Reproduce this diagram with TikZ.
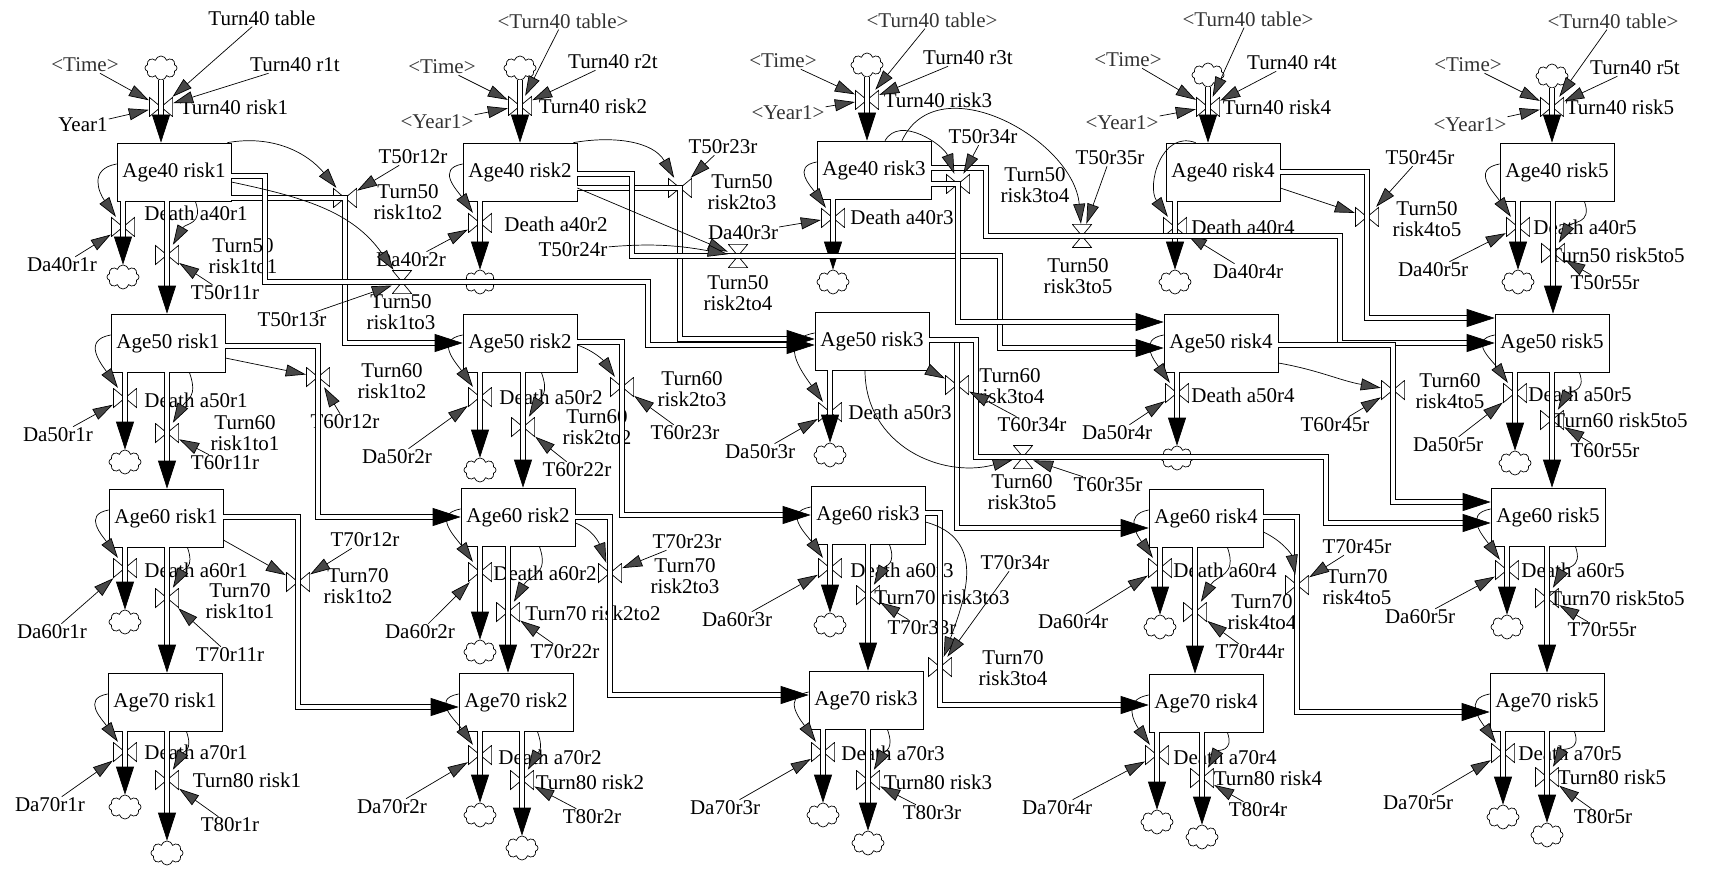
\documentclass[tikz,border=0pt]{standalone}
\usepackage{fontspec}
\setmainfont{Liberation Serif}
\usepackage{tikz}
\usetikzlibrary{arrows.meta,shapes.symbols}

\begin{document}
\begin{tikzpicture}[
	x=1pt,
	y=-1pt,
	font=\fontsize{21}{21}\selectfont,
	stock/.style={
		rectangle,
		draw,
		line width=0.7pt,
		minimum width=114pt,
		minimum height=58pt,
		inner sep=0pt
	},
	vvalve/.style={
		rectangle,
		inner sep=0pt,
		minimum width=24pt,
		minimum height=20pt,
		path picture={
			\draw[line width=0.7pt]
			([shift={(0.4pt,-0.4pt)}]path picture bounding box.north west) -- (path picture bounding box.center)
			-- ([shift={(0.4pt,0.4pt)}]path picture bounding box.south west) -- cycle
			([shift={(-0.4pt,-0.4pt)}]path picture bounding box.north east) -- (path picture bounding box.center)
			-- ([shift={(-0.4pt,0.4pt)}]path picture bounding box.south east) -- cycle;
		}
	},
	hvalve/.style={
		rectangle,
		inner sep=0pt,
		minimum width=20pt,
		minimum height=24pt,
		path picture={
			\draw[line width=0.7pt]
			([shift={(0.4pt,-0.4pt)}]path picture bounding box.north west) -- (path picture bounding box.center)
			-- ([shift={(-0.4pt,-0.4pt)}]path picture bounding box.north east) -- cycle
			([shift={(0.4pt,0.4pt)}]path picture bounding box.south west) -- (path picture bounding box.center)
			-- ([shift={(-0.4pt,0.4pt)}]path picture bounding box.south east) -- cycle;
		}
	},
	sink/.style={
		cloud,
		cloud puffs=8,
		aspect=1.3,
		draw,
		line width=0.7pt,
		inner sep=0pt,
		minimum width=32pt,
		minimum height=24pt
	},
	pipe/.style={
		double,
		double distance=4.5pt,
		line width=0.7pt
	},
	flow/.style={-{Triangle[length=28pt,width=18pt]}},
	info/.style={
		line width=0.7pt,
		-{Triangle[length=20pt,width=12pt,fill=black!72]}
	},
	vname/.style={inner sep=0pt, align=center},
	aux/.style={inner sep=1pt},
	ghost/.style={inner sep=1pt, text=black!80}
	]
	\useasboundingbox (0,0) rectangle (1735,869);

	% stocks
	\node (a40r1) [stock] at (174,172) {Age40 risk1};
	\node (a50r1) [stock] at (168,343) {Age50 risk1};
	\node (a60r1) [stock] at (166,518) {Age60 risk1};
	\node (a70r1) [stock] at (165,702) {Age70 risk1};
	\node (a40r2) [stock] at (520,172) {Age40 risk2};
	\node (a50r2) [stock] at (520,343) {Age50 risk2};
	\node (a60r2) [stock] at (518,517) {Age60 risk2};
	\node (a70r2) [stock] at (516,702) {Age70 risk2};
	\node (a40r3) [stock] at (874,170) {Age40 risk3};
	\node (a50r3) [stock] at (872,341) {Age50 risk3};
	\node (a60r3) [stock] at (868,515) {Age60 risk3};
	\node (a70r3) [stock] at (866,700) {Age70 risk3};
	\node (a40r4) [stock] at (1223,172) {Age40 risk4};
	\node (a50r4) [stock] at (1221,343) {Age50 risk4};
	\node (a60r4) [stock] at (1206,518) {Age60 risk4};
	\node (a70r4) [stock] at (1206,703) {Age70 risk4};
	\node (a40r5) [stock] at (1557,172) {Age40 risk5};
	\node (a50r5) [stock] at (1552,343) {Age50 risk5};
	\node (a60r5) [stock] at (1548,517) {Age60 risk5};
	\node (a70r5) [stock] at (1547,702) {Age70 risk5};

	% Turn40 inflows
	\node (cl40r1) [sink] at (161,68) {};
	\node (t40r1) [vvalve] at (161,107) {};
	\node (lt40r1) [vname] at (234,107) {Turn40 risk1};
	\node (table1) [aux] at (262,18) {Turn40 table};
	\node (time1) [ghost] at (85,65) {<Time>};
	\node (year1) [aux] at (83,125) {Year1};
	\node (r1t) [aux] at (295,65) {Turn40 r1t};
	\draw[pipe,flow] (cl40r1) -- (t40r1.center |- a40r1.north);
	\draw[info] (time1) -- (t40r1);
	\draw[info] (year1) -- (t40r1);
	\draw[info] (table1) -- (t40r1);
	\draw[info] (r1t) -- (t40r1);

	\node (cl40r2) [sink] at (520,68) {};
	\node (t40r2) [vvalve] at (520,106) {};
	\node (lt40r2) [vname] at (593,106) {Turn40 risk2};
	\node (table2) [ghost] at (563,21) {<Turn40 table>};
	\node (time2) [ghost] at (442,67) {<Time>};
	\node (year2) [ghost] at (437,122) {<Year1>};
	\node (r2t) [aux] at (613,62) {Turn40 r2t};
	\draw[pipe,flow] (cl40r2) -- (t40r2.center |- a40r2.north);
	\draw[info] (time2) -- (t40r2);
	\draw[info] (year2) -- (t40r2);
	\draw[info] (table2) -- (t40r2);
	\draw[info] (r2t) -- (t40r2);

	\node (cl40r3) [sink] at (867,65) {};
	\node (t40r3) [vvalve] at (867,100) {};
	\node (lt40r3) [vname] at (938,100) {Turn40 risk3};
	\node (table3) [ghost] at (932,20) {<Turn40 table>};
	\node (time3) [ghost] at (783,61) {<Time>};
	\node (year3) [ghost] at (788,113) {<Year1>};
	\node (r3t) [aux] at (968,58) {Turn40 r3t};
	\draw[pipe,flow] (cl40r3) -- (t40r3.center |- a40r3.north);
	\draw[info] (time3) -- (t40r3);
	\draw[info] (year3) -- (t40r3);
	\draw[info] (table3) -- (t40r3);
	\draw[info] (r3t) -- (t40r3);

	\node (cl40r4) [sink] at (1208,75) {};
	\node (t40r4) [vvalve] at (1208,107) {};
	\node (lt40r4) [vname] at (1277,107) {Turn40 risk4};
	\node (table4) [ghost] at (1248,19) {<Turn40 table>};
	\node (time4) [ghost] at (1128,60) {<Time>};
	\node (year4) [ghost] at (1122,123) {<Year1>};
	\node (r4t) [aux] at (1292,63) {Turn40 r4t};
	\draw[pipe,flow] (cl40r4) -- (t40r4.center |- a40r4.north);
	\draw[info] (time4) -- (t40r4);
	\draw[info] (year4) -- (t40r4);
	\draw[info] (table4) -- (t40r4);
	\draw[info] (r4t) -- (t40r4);

	\node (cl40r5) [sink] at (1552,76) {};
	\node (t40r5) [vvalve] at (1552,107) {};
	\node (lt40r5) [vname] at (1620,107) {Turn40 risk5};
	\node (table5) [ghost] at (1613,21) {<Turn40 table>};
	\node (time5) [ghost] at (1468,65) {<Time>};
	\node (year5) [ghost] at (1470,125) {<Year1>};
	\node (r5t) [aux] at (1635,68) {Turn40 r5t};
	\draw[pipe,flow] (cl40r5) -- (t40r5.center |- a40r5.north);
	\draw[info] (time5) -- (t40r5);
	\draw[info] (year5) -- (t40r5);
	\draw[info] (table5) -- (t40r5);
	\draw[info] (r5t) -- (t40r5);

	% deaths, risk1
	\node (d40r1) [vvalve] at (123,227) {};
	\node (cd40r1) [sink] at (123,277) {};
	\node (ld40r1) [vname] at (196,213) {Death a40r1};
	\node (da40r1r) [aux] at (62,265) {Da40r1r};
	\node (d50r1) [vvalve] at (125,398) {};
	\node (cd50r1) [sink] at (125,462) {};
	\node (ld50r1) [vname] at (196,400) {Death a50r1};
	\node (da50r1r) [aux] at (58,435) {Da50r1r};
	\node (d60r1) [vvalve] at (125,568) {};
	\node (cd60r1) [sink] at (125,622) {};
	\node (ld60r1) [vname] at (196,570) {Death a60r1};
	\node (da60r1r) [aux] at (52,632) {Da60r1r};
	\node (d70r1) [vvalve] at (125,752) {};
	\node (cd70r1) [sink] at (125,807) {};
	\node (ld70r1) [vname] at (196,752) {Death a70r1};
	\node (da70r1r) [aux] at (50,805) {Da70r1r};

	% deaths, risk2
	\node (d40r2) [vvalve] at (480,223) {};
	\node (cd40r2) [sink] at (480,282) {};
	\node (ld40r2) [vname] at (556,224) {Death a40r2};
	\node (da40r2r) [aux] at (411,260) {Da40r2r};
	\node (d50r2) [vvalve] at (480,397) {};
	\node (cd50r2) [sink] at (480,470) {};
	\node (ld50r2) [vname] at (551,397) {Death a50r2};
	\node (da50r2r) [aux] at (397,457) {Da50r2r};
	\node (d60r2) [vvalve] at (480,572) {};
	\node (cd60r2) [sink] at (480,652) {};
	\node (ld60r2) [vname] at (545,573) {Death a60r2};
	\node (da60r2r) [aux] at (420,632) {Da60r2r};
	\node (d70r2) [vvalve] at (480,755) {};
	\node (cd70r2) [sink] at (480,815) {};
	\node (ld70r2) [vname] at (550,757) {Death a70r2};
	\node (da70r2r) [aux] at (392,807) {Da70r2r};

	% deaths, risk3
	\node (d40r3) [vvalve] at (833,218) {};
	\node (cd40r3) [sink] at (833,282) {};
	\node (ld40r3) [vname] at (902,217) {Death a40r3};
	\node (da40r3r) [aux] at (743,233) {Da40r3r};
	\node (d50r3) [vvalve] at (830,412) {};
	\node (cd50r3) [sink] at (830,455) {};
	\node (ld50r3) [vname] at (900,412) {Death a50r3};
	\node (da50r3r) [aux] at (760,452) {Da50r3r};
	\node (d60r3) [vvalve] at (830,568) {};
	\node (cd60r3) [sink] at (830,625) {};
	\node (ld60r3) [vname] at (902,570) {Death a60r3};
	\node (da60r3r) [aux] at (737,620) {Da60r3r};
	\node (d70r3) [vvalve] at (823,752) {};
	\node (cd70r3) [sink] at (823,815) {};
	\node (ld70r3) [vname] at (893,753) {Death a70r3};
	\node (da70r3r) [aux] at (725,808) {Da70r3r};

	% deaths, risk4
	\node (d40r4) [vvalve] at (1175,227) {};
	\node (cd40r4) [sink] at (1175,282) {};
	\node (ld40r4) [vname] at (1243,227) {Death a40r4};
	\node (da40r4r) [aux] at (1248,272) {Da40r4r};
	\node (d50r4) [vvalve] at (1177,393) {};
	\node (cd50r4) [sink] at (1177,458) {};
	\node (ld50r4) [vname] at (1243,395) {Death a50r4};
	\node (da50r4r) [aux] at (1117,433) {Da50r4r};
	\node (d60r4) [vvalve] at (1160,568) {};
	\node (cd60r4) [sink] at (1160,627) {};
	\node (ld60r4) [vname] at (1225,570) {Death a60r4};
	\node (da60r4r) [aux] at (1073,622) {Da60r4r};
	\node (d70r4) [vvalve] at (1157,755) {};
	\node (cd70r4) [sink] at (1157,822) {};
	\node (ld70r4) [vname] at (1225,757) {Death a70r4};
	\node (da70r4r) [aux] at (1057,808) {Da70r4r};

	% deaths, risk5
	\node (d40r5) [vvalve] at (1518,227) {};
	\node (cd40r5) [sink] at (1518,282) {};
	\node (ld40r5) [vname] at (1585,227) {Death a40r5};
	\node (da40r5r) [aux] at (1433,270) {Da40r5r};
	\node (d50r5) [vvalve] at (1515,393) {};
	\node (cd50r5) [sink] at (1515,463) {};
	\node (ld50r5) [vname] at (1580,394) {Death a50r5};
	\node (da50r5r) [aux] at (1448,445) {Da50r5r};
	\node (d60r5) [vvalve] at (1507,570) {};
	\node (cd60r5) [sink] at (1507,627) {};
	\node (ld60r5) [vname] at (1573,570) {Death a60r5};
	\node (da60r5r) [aux] at (1420,617) {Da60r5r};
	\node (d70r5) [vvalve] at (1503,753) {};
	\node (cd70r5) [sink] at (1503,817) {};
	\node (ld70r5) [vname] at (1570,753) {Death a70r5};
	\node (da70r5r) [aux] at (1418,803) {Da70r5r};

	% death flows and links
	\draw[pipe,flow] (d40r1.center |- a40r1.south) -- (cd40r1);
	\draw[pipe,flow] (d50r1.center |- a50r1.south) -- (cd50r1);
	\draw[pipe,flow] (d60r1.center |- a60r1.south) -- (cd60r1);
	\draw[pipe,flow] (d70r1.center |- a70r1.south) -- (cd70r1);
	\draw[pipe,flow] (d40r2.center |- a40r2.south) -- (cd40r2);
	\draw[pipe,flow] (d50r2.center |- a50r2.south) -- (cd50r2);
	\draw[pipe,flow] (d60r2.center |- a60r2.south) -- (cd60r2);
	\draw[pipe,flow] (d70r2.center |- a70r2.south) -- (cd70r2);
	\draw[pipe,flow] (d40r3.center |- a40r3.south) -- (cd40r3);
	\draw[pipe,flow] (d50r3.center |- a50r3.south) -- (cd50r3);
	\draw[pipe,flow] (d60r3.center |- a60r3.south) -- (cd60r3);
	\draw[pipe,flow] (d70r3.center |- a70r3.south) -- (cd70r3);
	\draw[pipe,flow] (d40r4.center |- a40r4.south) -- (cd40r4);
	\draw[pipe,flow] (d50r4.center |- a50r4.south) -- (cd50r4);
	\draw[pipe,flow] (d60r4.center |- a60r4.south) -- (cd60r4);
	\draw[pipe,flow] (d70r4.center |- a70r4.south) -- (cd70r4);
	\draw[pipe,flow] (d40r5.center |- a40r5.south) -- (cd40r5);
	\draw[pipe,flow] (d50r5.center |- a50r5.south) -- (cd50r5);
	\draw[pipe,flow] (d60r5.center |- a60r5.south) -- (cd60r5);
	\draw[pipe,flow] (d70r5.center |- a70r5.south) -- (cd70r5);

	\draw[info] ([yshift=8pt]a40r1.west) to[out=190,in=125,looseness=1.4] (d40r1);
	\draw[info] ([yshift=8pt]a50r1.west) to[out=190,in=125,looseness=1.4] (d50r1);
	\draw[info] ([yshift=8pt]a60r1.west) to[out=190,in=125,looseness=1.4] (d60r1);
	\draw[info] ([yshift=8pt]a70r1.west) to[out=190,in=125,looseness=1.4] (d70r1);
	\draw[info] ([yshift=8pt]a40r2.west) to[out=190,in=125,looseness=1.4] (d40r2);
	\draw[info] ([yshift=8pt]a50r2.west) to[out=190,in=125,looseness=1.4] (d50r2);
	\draw[info] ([yshift=8pt]a60r2.west) to[out=190,in=125,looseness=1.4] (d60r2);
	\draw[info] ([yshift=8pt]a70r2.west) to[out=190,in=125,looseness=1.4] (d70r2);
	\draw[info] ([yshift=8pt]a40r3.west) to[out=190,in=125,looseness=1.4] (d40r3);
	\draw[info] ([yshift=8pt]a50r3.west) to[out=190,in=125,looseness=1.4] (d50r3);
	\draw[info] ([yshift=8pt]a60r3.west) to[out=190,in=125,looseness=1.4] (d60r3);
	\draw[info] ([yshift=8pt]a70r3.west) to[out=190,in=125,looseness=1.4] (d70r3);
	\draw[info] ([xshift=30pt]a40r4.north west) to[out=160,in=125,looseness=1.2] (d40r4);
	\draw[info] ([yshift=8pt]a50r4.west) to[out=190,in=125,looseness=1.4] (d50r4);
	\draw[info] ([yshift=8pt]a60r4.west) to[out=190,in=125,looseness=1.4] (d60r4);
	\draw[info] ([yshift=8pt]a70r4.west) to[out=190,in=125,looseness=1.4] (d70r4);
	\draw[info] ([yshift=8pt]a40r5.west) to[out=190,in=125,looseness=1.4] (d40r5);
	\draw[info] ([yshift=8pt]a50r5.west) to[out=190,in=125,looseness=1.4] (d50r5);
	\draw[info] ([yshift=8pt]a60r5.west) to[out=190,in=125,looseness=1.4] (d60r5);
	\draw[info] ([yshift=8pt]a70r5.west) to[out=190,in=125,looseness=1.4] (d70r5);

	\draw[info] (da40r1r) -- (d40r1);
	\draw[info] (da50r1r) -- (d50r1);
	\draw[info] (da60r1r) -- (d60r1);
	\draw[info] (da70r1r) -- (d70r1);
	\draw[info] (da40r2r) -- (d40r2);
	\draw[info] (da50r2r) -- (d50r2);
	\draw[info] (da60r2r) -- (d60r2);
	\draw[info] (da70r2r) -- (d70r2);
	\draw[info] (da40r3r) -- (d40r3);
	\draw[info] (da50r3r) -- (d50r3);
	\draw[info] (da60r3r) -- (d60r3);
	\draw[info] (da70r3r) -- (d70r3);
	\draw[info] (da40r4r) -- (d40r4);
	\draw[info] (da50r4r) -- (d50r4);
	\draw[info] (da60r4r) -- (d60r4);
	\draw[info] (da70r4r) -- (d70r4);
	\draw[info] (da40r5r) -- (d40r5);
	\draw[info] (da50r5r) -- (d50r5);
	\draw[info] (da60r5r) -- (d60r5);
	\draw[info] (da70r5r) -- (d70r5);

	% ageing within the same risk
	\node (t50r11) [vvalve] at (167,255) {};
	\node (lt50r11) [vname] at (243,256) {Turn50\\risk1to1};
	\node (t50r11r) [aux] at (225,293) {T50r11r};
	\node (t60r11) [vvalve] at (167,433) {};
	\node (lt60r11) [vname] at (245,433) {Turn60\\risk1to1};
	\node (t60r11r) [aux] at (225,463) {T60r11r};
	\node (t70r11) [vvalve] at (167,598) {};
	\node (lt70r11) [vname] at (240,601) {Turn70\\risk1to1};
	\node (t70r11r) [aux] at (230,655) {T70r11r};
	\node (t80r1) [vvalve] at (167,780) {};
	\node (ct80r1) [sink] at (167,853) {};
	\node (lt80r1) [vname] at (247,780) {Turn80 risk1};
	\node (t80r1r) [aux] at (230,825) {T80r1r};

	\node (t60r22) [vvalve] at (523,427) {};
	\node (lt60r22) [vname] at (597,427) {Turn60\\risk2to2};
	\node (t60r22r) [aux] at (577,470) {T60r22r};
	\node (t70r22) [vvalve] at (508,612) {};
	\node (lt70r22) [vname] at (593,613) {Turn70 risk2to2};
	\node (t70r22r) [aux] at (565,652) {T70r22r};
	\node (t80r2) [vvalve] at (522,780) {};
	\node (ct80r2) [sink] at (522,848) {};
	\node (lt80r2) [vname] at (590,782) {Turn80 risk2};
	\node (t80r2r) [aux] at (592,817) {T80r2r};

	\node (t70r33) [vvalve] at (868,595) {};
	\node (lt70r33) [vname] at (942,597) {Turn70 risk3to3};
	\node (t70r33r) [aux] at (922,628) {T70r33r};
	\node (t80r3) [vvalve] at (868,780) {};
	\node (ct80r3) [sink] at (868,843) {};
	\node (lt80r3) [vname] at (938,782) {Turn80 risk3};
	\node (t80r3r) [aux] at (932,813) {T80r3r};

	\node (t70r44) [vvalve] at (1195,612) {};
	\node (lt70r44) [vname] at (1262,612) {Turn70\\risk4to4};
	\node (t70r44r) [aux] at (1250,652) {T70r44r};
	\node (t80r4) [vvalve] at (1202,778) {};
	\node (ct80r4) [sink] at (1202,837) {};
	\node (lt80r4) [vname] at (1268,778) {Turn80 risk4};
	\node (t80r4r) [aux] at (1258,810) {T80r4r};

	\node (t50r55) [vvalve] at (1553,253) {};
	\node (lt50r55) [vname] at (1617,255) {Turn50 risk5to5};
	\node (t50r55r) [aux] at (1605,283) {T50r55r};
	\node (t60r55) [vvalve] at (1552,420) {};
	\node (lt60r55) [vname] at (1620,420) {Turn60 risk5to5};
	\node (t60r55r) [aux] at (1605,451) {T60r55r};
	\node (t70r55) [vvalve] at (1547,598) {};
	\node (lt70r55) [vname] at (1617,598) {Turn70 risk5to5};
	\node (t70r55r) [aux] at (1602,630) {T70r55r};
	\node (t80r5) [vvalve] at (1547,777) {};
	\node (ct80r5) [sink] at (1547,835) {};
	\node (lt80r5) [vname] at (1612,777) {Turn80 risk5};
	\node (t80r5r) [aux] at (1603,817) {T80r5r};

	\draw[pipe,flow] (t50r11.center |- a40r1.south) -- (t50r11.center |- a50r1.north);
	\draw[pipe,flow] (t60r11.center |- a50r1.south) -- (t60r11.center |- a60r1.north);
	\draw[pipe,flow] (t70r11.center |- a60r1.south) -- (t70r11.center |- a70r1.north);
	\draw[pipe,flow] (t80r1.center |- a70r1.south) -- (ct80r1);
	\draw[pipe,flow] (t60r22.center |- a50r2.south) -- (t60r22.center |- a60r2.north);
	\draw[pipe,flow] (t70r22.center |- a60r2.south) -- (t70r22.center |- a70r2.north);
	\draw[pipe,flow] (t80r2.center |- a70r2.south) -- (ct80r2);
	\draw[pipe,flow] (t70r33.center |- a60r3.south) -- (t70r33.center |- a70r3.north);
	\draw[pipe,flow] (t80r3.center |- a70r3.south) -- (ct80r3);
	\draw[pipe,flow] (t70r44.center |- a60r4.south) -- (t70r44.center |- a70r4.north);
	\draw[pipe,flow] (t80r4.center |- a70r4.south) -- (ct80r4);
	\draw[pipe,flow] (t50r55.center |- a40r5.south) -- (t50r55.center |- a50r5.north);
	\draw[pipe,flow] (t60r55.center |- a50r5.south) -- (t60r55.center |- a60r5.north);
	\draw[pipe,flow] (t70r55.center |- a60r5.south) -- (t70r55.center |- a70r5.north);
	\draw[pipe,flow] (t80r5.center |- a70r5.south) -- (ct80r5);

	\draw[info] ([xshift=-36pt]a40r1.south east) to[out=-70,in=60,looseness=1.3] (t50r11);
	\draw[info] ([xshift=-36pt]a50r1.south east) to[out=-70,in=60,looseness=1.3] (t60r11);
	\draw[info] ([xshift=-36pt]a60r1.south east) to[out=-70,in=60,looseness=1.3] (t70r11);
	\draw[info] ([xshift=-36pt]a70r1.south east) to[out=-70,in=60,looseness=1.3] (t80r1);
	\draw[info] ([xshift=-36pt]a50r2.south east) to[out=-70,in=60,looseness=1.3] (t60r22);
	\draw[info] ([xshift=-36pt]a60r2.south east) to[out=-70,in=60,looseness=1.3] (t70r22);
	\draw[info] ([xshift=-36pt]a70r2.south east) to[out=-70,in=60,looseness=1.3] (t80r2);
	\draw[info] ([xshift=-36pt]a60r3.south east) to[out=-70,in=60,looseness=1.3] (t70r33);
	\draw[info] ([xshift=-36pt]a70r3.south east) to[out=-70,in=60,looseness=1.3] (t80r3);
	\draw[info] ([xshift=-36pt]a60r4.south east) to[out=-70,in=60,looseness=1.3] (t70r44);
	\draw[info] ([xshift=-36pt]a70r4.south east) to[out=-70,in=60,looseness=1.3] (t80r4);
	\draw[info] ([xshift=-30pt]a40r5.south east) to[out=-70,in=60,looseness=1.3] (t50r55);
	\draw[info] ([xshift=-30pt]a50r5.south east) to[out=-70,in=60,looseness=1.3] (t60r55);
	\draw[info] ([xshift=-30pt]a60r5.south east) to[out=-70,in=60,looseness=1.3] (t70r55);
	\draw[info] ([xshift=-30pt]a70r5.south east) to[out=-70,in=60,looseness=1.3] (t80r5);

	\draw[info] (t50r11r) -- (t50r11);
	\draw[info] (t60r11r) -- (t60r11);
	\draw[info] (t70r11r) -- (t70r11);
	\draw[info] (t80r1r) -- (t80r1);
	\draw[info] (t60r22r) -- (t60r22);
	\draw[info] (t70r22r) -- (t70r22);
	\draw[info] (t80r2r) -- (t80r2);
	\draw[info] (t70r33r) -- (t70r33);
	\draw[info] (t80r3r) -- (t80r3);
	\draw[info] (t70r44r) -- (t70r44);
	\draw[info] (t80r4r) -- (t80r4);
	\draw[info] (t50r55r) -- (t50r55);
	\draw[info] (t60r55r) -- (t60r55);
	\draw[info] (t70r55r) -- (t70r55);
	\draw[info] (t80r5r) -- (t80r5);

	% moves to a higher risk at age 50
	\node (t50r12) [vvalve] at (345,198) {};
	\node (lt50r12) [vname] at (408,202) {Turn50\\risk1to2};
	\node (t50r12r) [aux] at (413,157) {T50r12r};
	\node (t50r13) [hvalve] at (402,282) {};
	\node (lt50r13) [vname] at (401,312) {Turn50\\risk1to3};
	\node (t50r13r) [aux] at (292,320) {T50r13r};
	\node (t50r23) [vvalve] at (680,188) {};
	\node (lt50r23) [vname] at (742,192) {Turn50\\risk2to3};
	\node (t50r23r) [aux] at (723,147) {T50r23r};
	\node (t50r24) [hvalve] at (738,256) {};
	\node (lt50r24) [vname] at (738,293) {Turn50\\risk2to4};
	\node (t50r24r) [aux] at (573,250) {T50r24r};
	\node (t50r34) [vvalve] at (958,184) {};
	\node (lt50r34) [vname] at (1035,185) {Turn50\\risk3to4};
	\node (t50r34r) [aux] at (983,137) {T50r34r};
	\node (t50r35) [hvalve] at (1082,236) {};
	\node (lt50r35) [vname] at (1078,276) {Turn50\\risk3to5};
	\node (t50r35r) [aux] at (1110,158) {T50r35r};
	\node (t50r45) [vvalve] at (1367,217) {};
	\node (lt50r45) [vname] at (1427,219) {Turn50\\risk4to5};
	\node (t50r45r) [aux] at (1420,158) {T50r45r};

	\draw[pipe,flow] (a40r1.east |- t50r12.center) -- (t50r12.center) |- (a50r2.west);
	\draw[pipe,flow] (a40r1.east |- 0,176) -| (265,282) -- (t50r13.center) -| (648,345) -- (a50r3.west |- 0,345);
	\draw[pipe,flow] (a40r2.east |- t50r23.center) -- (t50r23.center) |- (a50r3.west |- 0,339);
	\draw[pipe,flow] (a40r2.east |- 0,174) -| (632,256) -- (t50r24.center) -| (1000,348) -- (a50r4.west |- 0,348);
	\draw[pipe,flow] (a40r3.east |- t50r34.center) -- (t50r34.center) |- (a50r4.west |- 0,322);
	\draw[pipe,flow] (a40r3.east |- 0,168) -| (986,236) -- (t50r35.center) -| (1340,343) -- (a50r5.west |- 0,343);
	\draw[pipe,flow] (a40r4.east |- 0,172) -| (t50r45.center) |- (a50r5.west |- 0,318);

	\draw[info] ([xshift=-4pt]a40r1.north east) to[out=10,in=130] (t50r12);
	\draw[info] (t50r12r) -- (t50r12);
	\draw[info] ([yshift=-10pt]a40r1.east) to[out=-12,in=125] (t50r13);
	\draw[info] (t50r13r) -- (t50r13);
	\draw[info] ([xshift=-4pt]a40r2.north east) to[out=10,in=120] (t50r23);
	\draw[info] (t50r23r) -- (t50r23);
	\draw[info] ([yshift=-16pt]a40r2.east) -- (t50r24);
	\draw[info] (t50r24r) to[out=5,in=170] (t50r24);
	\draw[info] ([xshift=11pt]a40r3.north) to[out=60,in=110] (t50r34);
	\draw[info] (t50r34r) -- (t50r34);
	\draw[info] ([xshift=28pt]a40r3.north) to[out=65,in=95,looseness=1.1] (t50r35);
	\draw[info] (t50r35r) -- (t50r35);
	\draw[info] ([yshift=-16pt]a40r4.east) -- (t50r45);
	\draw[info] (t50r45r) -- (t50r45);

	% moves to a higher risk at age 60
	\node (t60r12) [vvalve] at (318,377) {};
	\node (lt60r12) [vname] at (392,381) {Turn60\\risk1to2};
	\node (t60r12r) [aux] at (345,422) {T60r12r};
	\node (t60r23) [vvalve] at (622,387) {};
	\node (lt60r23) [vname] at (692,389) {Turn60\\risk2to3};
	\node (t60r23r) [aux] at (685,433) {T60r23r};
	\node (t60r34) [vvalve] at (957,385) {};
	\node (lt60r34) [vname] at (1010,386) {Turn60\\risk3to4};
	\node (t60r34r) [aux] at (1032,425) {T60r34r};
	\node (t60r35) [hvalve] at (1023,457) {};
	\node (lt60r35) [vname] at (1022,492) {Turn60\\risk3to5};
	\node (t60r35r) [aux] at (1108,485) {T60r35r};
	\node (t60r45) [vvalve] at (1393,390) {};
	\node (lt60r45) [vname] at (1450,391) {Turn60\\risk4to5};
	\node (t60r45r) [aux] at (1335,425) {T60r45r};

	\draw[pipe,flow] (a50r1.east |- 0,346) -| (t60r12.center) |- (a60r2.west);
	\draw[pipe,flow] (a50r2.east |- 0,342) -| (t60r23.center) |- (a60r3.west);
	\draw[pipe,flow] (a50r3.east |- 0,340) -| (t60r34.center) |- (a60r4.west |- 0,528);
	\draw[pipe,flow] (a50r3.east |- 0,340) -| (976,457) -- (t60r35.center) -| (1326,523) -- (a60r5.west |- 0,523);
	\draw[pipe,flow] (a50r4.east |- 0,345) -| (t60r45.center) |- (a60r5.west |- 0,502);

	\draw[info] ([yshift=-15pt]a50r1.east) -- (t60r12);
	\draw[info] (t60r12r) -- (t60r12);
	\draw[info] ([yshift=-2pt]a50r2.east) to[out=-20,in=125] (t60r23);
	\draw[info] (t60r23r) -- (t60r23);
	\draw[info] (a50r3.south east) -- (t60r34);
	\draw[info] (t60r34r) -- (t60r34);
	\draw[info] ([xshift=-7pt]a50r3.south) to[out=-90,in=195,looseness=1.1] (t60r35);
	\draw[info] (t60r35r) -- (t60r35);
	\draw[info] ([yshift=-20pt]a50r4.east) to[out=-10,in=170] (t60r45);
	\draw[info] (t60r45r) -- (t60r45);

	% moves to a higher risk at age 70
	\node (t70r12) [vvalve] at (298,582) {};
	\node (lt70r12) [vname] at (358,586) {Turn70\\risk1to2};
	\node (t70r12r) [aux] at (365,540) {T70r12r};
	\node (t70r23) [vvalve] at (610,573) {};
	\node (lt70r23) [vname] at (685,576) {Turn70\\risk2to3};
	\node (t70r23r) [aux] at (687,542) {T70r23r};
	\node (t70r34) [vvalve] at (940,667) {};
	\node (lt70r34) [vname] at (1013,668) {Turn70\\risk3to4};
	\node (t70r34r) [aux] at (1015,563) {T70r34r};
	\node (t70r45) [vvalve] at (1297,585) {};
	\node (lt70r45) [vname] at (1357,587) {Turn70\\risk4to5};
	\node (t70r45r) [aux] at (1357,547) {T70r45r};

	\draw[pipe,flow] (a60r1.east |- 0,517) -| (t70r12.center) |- (a70r2.west |- 0,707);
	\draw[pipe,flow] (a60r2.east |- 0,517) -| (t70r23.center) |- (a70r3.west |- 0,695);
	\draw[pipe,flow] (a60r3.east |- 0,513) -| (t70r34.center) |- (a70r4.west |- 0,705);
	\draw[pipe,flow] (a60r4.east |- 0,517) -| (t70r45.center) |- (a70r5.west |- 0,712);

	\draw[info] ([yshift=-22pt]a60r1.east) -- (t70r12);
	\draw[info] (t70r12r) -- (t70r12);
	\draw[info] ([yshift=-6pt]a60r2.east) to[out=-20,in=110] (t70r23);
	\draw[info] (t70r23r) -- (t70r23);
	\draw[info] ([yshift=-7pt]a60r3.east) to[out=-15,in=70,looseness=1.2] (t70r34);
	\draw[info] (t70r34r) -- (t70r34);
	\draw[info] ([yshift=-14pt]a60r4.east) to[out=-25,in=100] (t70r45);
	\draw[info] (t70r45r) -- (t70r45);

\end{tikzpicture}
\end{document}
